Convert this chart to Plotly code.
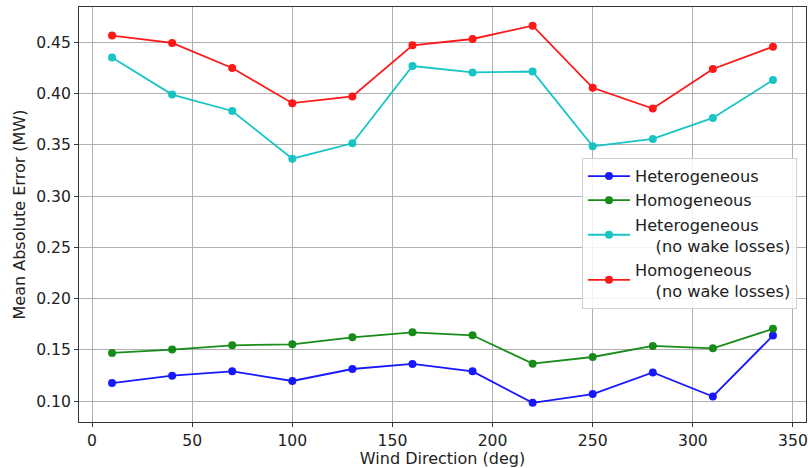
import plotly.graph_objects as go

wind_dir = [10, 40, 70, 100, 130, 160, 190, 220, 250, 280, 310, 340]
heterogeneous = [0.1176, 0.1248, 0.1290, 0.1196, 0.1313, 0.1362, 0.1290, 0.0983, 0.1068, 0.1280, 0.1045, 0.1639]
homogeneous = [0.1470, 0.1502, 0.1544, 0.1554, 0.1622, 0.1671, 0.1642, 0.1365, 0.1430, 0.1538, 0.1515, 0.1705]
hetero_nowake = [0.4352, 0.3990, 0.3830, 0.3364, 0.3515, 0.4268, 0.4206, 0.4215, 0.3485, 0.3557, 0.3762, 0.4131]
homo_nowake = [0.4565, 0.4493, 0.4249, 0.3906, 0.3971, 0.4470, 0.4532, 0.4662, 0.4056, 0.3853, 0.4239, 0.4457]

names = ["Heterogeneous", "Homogeneous",
         "Heterogeneous<br>\u00a0\u00a0\u00a0\u00a0(no wake losses)",
         "Homogeneous<br>\u00a0\u00a0\u00a0\u00a0(no wake losses)"]
colors = ["#0000ff", "#008000", "#00bfbf", "#ff0000"]
series = [heterogeneous, homogeneous, hetero_nowake, homo_nowake]

fig = go.Figure()
for name, col, ys in zip(names, colors, series):
    fig.add_trace(go.Scatter(x=wind_dir, y=ys, mode="lines+markers", name=name,
                             line=dict(color=col, width=1.8),
                             marker=dict(color=col, size=8), opacity=0.9))

font = dict(family="DejaVu Sans", size=15.6, color="#222222")
title_font = dict(family="DejaVu Sans", size=16, color="#222222")
fig.update_layout(
    width=808, height=468,
    margin=dict(l=79, r=2, t=7, b=46),
    paper_bgcolor="white", plot_bgcolor="white",
    font=font,
    showlegend=True,
    legend=dict(x=0.9876, y=0.636, xanchor="right", yanchor="top",
                bgcolor="rgba(255,255,255,0.85)", bordercolor="#d0d0d0", borderwidth=1,
                font=dict(family="DejaVu Sans", size=16.2, color="#222222"),
                tracegroupgap=0, itemwidth=42, valign="middle"),
)
fig.update_xaxes(range=[-6.5, 356.5], tickvals=[0, 50, 100, 150, 200, 250, 300, 350],
                 automargin=False,
                 showgrid=True, gridcolor="#b0b0b0", gridwidth=0.8,
                 showline=True, linecolor="#333333", linewidth=1, mirror=True,
                 ticks="outside", ticklen=4, tickcolor="#333333", zeroline=False,
                 title=dict(text="Wind Direction (deg)", standoff=4, font=title_font))
fig.update_yaxes(range=[0.0796, 0.4844], tickvals=[0.10, 0.15, 0.20, 0.25, 0.30, 0.35, 0.40, 0.45],
                 tickformat=".2f", automargin=False,
                 showgrid=True, gridcolor="#b0b0b0", gridwidth=0.8,
                 showline=True, linecolor="#333333", linewidth=1, mirror=True,
                 ticks="outside", ticklen=4, tickcolor="#333333", zeroline=False,
                 title=dict(text="Mean Absolute Error (MW)", standoff=6, font=title_font))

fig.write_html("out.html", config={"displayModeBar": False},
               post_script="document.body.style.margin='0px';document.body.style.overflow='hidden';")
